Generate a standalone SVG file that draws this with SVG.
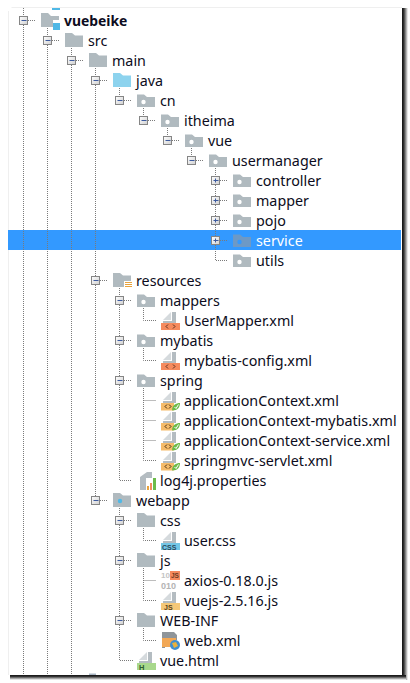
<svg xmlns="http://www.w3.org/2000/svg" width="410" height="683" viewBox="0 0 410 683">
<defs>
<linearGradient id="tg" x1="0" y1="0" x2="1" y2="1"><stop offset="0" stop-color="#ffffff"/><stop offset="1" stop-color="#d0d0d0"/></linearGradient>
<linearGradient id="sb" x1="0" y1="0" x2="0" y2="1"><stop offset="0" stop-color="#111"/><stop offset="0.3" stop-color="#333"/><stop offset="1" stop-color="#fff"/></linearGradient>
<linearGradient id="sr" x1="0" y1="0" x2="1" y2="0"><stop offset="0" stop-color="#111"/><stop offset="0.3" stop-color="#333"/><stop offset="1" stop-color="#fff"/></linearGradient>
<g id="minus"><rect x="-3.5" y="-3.5" width="8" height="8" fill="url(#tg)" stroke="#858585"/><path d="M-1.5 .5H3.5" stroke="#3c5a9e" stroke-width="1"/></g>
<g id="plus"><rect x="-3.5" y="-3.5" width="8" height="8" fill="url(#tg)" stroke="#858585"/><path d="M-1.5 .5H3.5M.5 -1.5V2.5" stroke="#3c5a9e" stroke-width="1"/></g>
<path id="f" d="M0 -7H7L10 -4.5H18V7H0Z" fill="#b0babf"/>
<g id="fd"><path d="M0 -5.500H7L10 -3H18V7H0Z" fill="#b0babf"/><circle cx="6.500" cy="2" r="2.200" fill="#fff"/></g>
<g id="pg"><path d="M3 0L11 -8V0Z" fill="#d5dadd"/><path d="M12 -8H16V3H3V1H12Z" fill="#b4bcc1"/></g>
<g id="xml"><use href="#pg"/><rect x="1" y="3" width="19" height="7" fill="#f58a5e"/><path d="M8 4.500L6 6.500L8 8.500M13 4.500L15 6.500L13 8.500" fill="none" stroke="#5a3020" stroke-width="1"/></g>
<g id="sx"><use href="#pg"/><rect x="1" y="3" width="13" height="7.500" fill="#f5bb6a"/><path d="M7 4.500L5 6.500L7 8.500M9 4.500L11 6.500L9 8.500" fill="none" stroke="#4a3010" stroke-width="1"/><path d="M12 10.500C12 5 16 3 20 3C20 7 18 10.500 12 10.500Z" fill="#6cbb4a"/><path d="M14.500 7L16 8.500L18.500 4.500" fill="none" stroke="#fff" stroke-width="1"/></g>
<style>
.l{fill:none;stroke:#7a7a7a;stroke-width:1;stroke-dasharray:1 1}
text{font-family:"Noto Sans","DejaVu Sans",sans-serif;font-size:14.3px;fill:#0c0c20}
.i{font-family:"Liberation Sans",sans-serif;font-weight:bold}
</style>
</defs>
<rect width="410" height="683" fill="#fff"/>
<g id="frame">
<path d="M11.500 7.500H402M8.500 11V675" fill="none" stroke="#efefef"/>
<rect x="402" y="8" width="6" height="672" fill="url(#sr)"/>
<rect x="10" y="675" width="396" height="5" fill="url(#sb)"/>
</g>
<rect id="selection" x="8" y="230" width="393" height="20" fill="#3399ff"/>
<g id="connectors">
<path class="l" d="M23.500 8V16M23.500 25V675M28 20.500H36"/>
<path class="l" d="M47.500 28V36M47.500 45V675M52 40.500H60"/>
<path class="l" d="M71.500 48V56M71.500 65V675M76 60.500H84"/>
<path class="l" d="M95.500 68V76M95.500 85V276M95.500 285V496M100 80.500H108M100 280.500H108M100 500.500H108"/>
<path class="l" d="M119.500 88V96M124 100.500H132"/>
<path class="l" d="M143.500 108V116M148 120.500H156"/>
<path class="l" d="M167.500 128V136M172 140.500H180"/>
<path class="l" d="M191.500 148V156M196 160.500H204"/>
<path class="l" d="M215.500 168V176M215.500 185V196M215.500 205V216M215.500 225V236M215.500 245V260.500H228M220 180.500H228M220 200.500H228M220 220.500H228M220 240.500H228"/>
<path class="l" d="M119.500 288V296M119.500 305V336M119.500 345V376M119.500 385V480.500H132M124 300.500H132M124 340.500H132M124 380.500H132"/>
<path class="l" d="M143.500 308V320.500H156M143.500 348V360.500H156"/>
<path class="l" d="M143.500 388V460.500H156M143.500 400.500H156M143.500 420.500H156M143.500 440.500H156"/>
<path class="l" d="M119.500 508V516M119.500 525V556M119.500 565V616M119.500 625V660.500H133M124 520.500H132M124 560.500H132M124 620.500H132"/>
<path class="l" d="M143.500 528V540.500H156M143.500 568V600.500H156M143.500 580.500H156M143.500 628V640.500H156"/>
</g>
<path id="top-sliver" d="M52 8H60V10H52Z" fill="#4fb8e6"/>
<path id="bottom-sliver" d="M89 673.500H96V675H89Z" fill="#a9b6c4"/>
<g id="n-vuebeike"><use href="#minus" x="23" y="20"/><path d="M41 13H48L51 16H59V20H53V27H41Z" fill="#b0babf"/><rect x="53" y="23" width="7" height="7" fill="#4fb8e6"/><text x="64" y="26" style="font-weight:700;font-size:13.900px">vuebeike</text></g>
<g id="n-src"><use href="#minus" x="47" y="40"/><use href="#f" x="65" y="40"/><text x="88" y="46">src</text></g>
<g id="n-main"><use href="#minus" x="71" y="60"/><use href="#f" x="89" y="60"/><text x="112" y="66">main</text></g>
<g id="n-java"><use href="#minus" x="95" y="80"/><path d="M113 73H120L123 75.500H131V87H113Z" fill="#8dd3ee"/><text x="136" y="86">java</text></g>
<g id="n-cn"><use href="#minus" x="119" y="100"/><use href="#fd" x="137" y="100"/><text x="160" y="106">cn</text></g>
<g id="n-itheima"><use href="#minus" x="143" y="120"/><use href="#fd" x="161" y="120"/><text x="184" y="126">itheima</text></g>
<g id="n-vue"><use href="#minus" x="167" y="140"/><use href="#fd" x="185" y="140"/><text x="208" y="146">vue</text></g>
<g id="n-usermanager"><use href="#minus" x="191" y="160"/><use href="#fd" x="209" y="160"/><text x="232" y="166">usermanager</text></g>
<g id="n-controller"><use href="#plus" x="215" y="180"/><use href="#fd" x="233" y="180"/><text x="256" y="186">controller</text></g>
<g id="n-mapper"><use href="#plus" x="215" y="200"/><use href="#fd" x="233" y="200"/><text x="256" y="206">mapper</text></g>
<g id="n-pojo"><use href="#plus" x="215" y="220"/><use href="#fd" x="233" y="220"/><text x="256" y="226">pojo</text></g>
<g id="n-service"><use href="#plus" x="215" y="240"/><path d="M233 234.500H240L243 237H251V247H233Z" fill="#6d99c6"/><circle cx="239.500" cy="242" r="2.200" fill="#3399ff"/><text x="256" y="246" style="fill:#fff">service</text></g>
<g id="n-utils"><use href="#fd" x="233" y="260"/><text x="256" y="266">utils</text></g>
<g id="n-resources"><use href="#minus" x="95" y="280"/><path d="M113 273H120L123 275.500H131V281H124V287H113Z" fill="#b0babf"/><path d="M125 282.500H132M125 284.500H132M125 286.500H132" stroke="#e8a33c"/><text x="136" y="286">resources</text></g>
<g id="n-mappers"><use href="#minus" x="119" y="300"/><use href="#fd" x="137" y="300"/><text x="160" y="306">mappers</text></g>
<g id="n-usermapper"><use href="#xml" x="160" y="320"/><text x="184" y="326">UserMapper.xml</text></g>
<g id="n-mybatis"><use href="#minus" x="119" y="340"/><use href="#fd" x="137" y="340"/><text x="160" y="346">mybatis</text></g>
<g id="n-mybatis-config"><use href="#xml" x="160" y="360"/><text x="184" y="366">mybatis-config.xml</text></g>
<g id="n-spring"><use href="#minus" x="119" y="380"/><use href="#fd" x="137" y="380"/><text x="160" y="386">spring</text></g>
<g id="n-ac"><use href="#sx" x="160" y="400"/><text x="184" y="406">applicationContext.xml</text></g>
<g id="n-ac-mybatis"><use href="#sx" x="160" y="420"/><text x="184" y="426">applicationContext-mybatis.xml</text></g>
<g id="n-ac-service"><use href="#sx" x="160" y="440"/><text x="184" y="446">applicationContext-service.xml</text></g>
<g id="n-springmvc"><use href="#sx" x="160" y="460"/><text x="184" y="466">springmvc-servlet.xml</text></g>
<g id="n-log4j"><path d="M140 477L147 472H152V478H146V490H140Z" fill="#b4bcc1"/><rect x="147" y="486" width="2" height="4" fill="#e8a33c"/><rect x="150" y="483" width="2" height="7" fill="#f58a5e"/><rect x="153" y="478" width="3" height="12" fill="#6cbb4a"/><text x="160" y="486">log4j.properties</text></g>
<g id="n-webapp"><use href="#minus" x="95" y="500"/><path d="M113 493H120L123 495.500H131V507H113Z" fill="#b0babf"/><circle cx="120" cy="501" r="2.200" fill="#4fb8e6"/><text x="136" y="506">webapp</text></g>
<g id="n-css"><use href="#minus" x="119" y="520"/><use href="#f" x="137" y="520"/><text x="160" y="526">css</text></g>
<g id="n-usercss"><use href="#pg" x="160" y="540"/><rect x="161" y="543" width="19" height="7" fill="#72c6e6"/><text class="i" x="162" y="549.500" style="font-family:'Liberation Sans',sans-serif;font-size:7px;fill:#2b4a5c">CSS</text><text x="184" y="546">user.css</text></g>
<g id="n-js"><use href="#minus" x="119" y="560"/><use href="#f" x="137" y="560"/><text x="160" y="566">js</text></g>
<g id="n-axios"><text x="161" y="578" style="font-family:'Liberation Sans',sans-serif;font-size:8px;font-weight:bold;fill:#c4c4c4">10</text><rect x="170" y="571" width="10" height="9" fill="#f58a5e"/><text x="171" y="578" style="font-family:'Liberation Sans',sans-serif;font-size:6.500px;font-weight:bold;fill:#6b3a24">JS</text><text x="161" y="589" style="font-family:'Liberation Sans',sans-serif;font-size:9px;font-weight:bold;fill:#b4b4b4">010</text><text x="184" y="586">axios-0.18.0.js</text></g>
<g id="n-vuejs"><use href="#pg" x="160" y="600"/><rect x="161" y="603" width="19" height="7" fill="#f5c878"/><text x="164" y="609.500" style="font-family:'Liberation Sans',sans-serif;font-size:7px;font-weight:bold;fill:#5a4420">JS</text><text x="184" y="606">vuejs-2.5.16.js</text></g>
<g id="n-webinf"><use href="#minus" x="119" y="620"/><use href="#f" x="137" y="620"/><text x="160" y="626">WEB-INF</text></g>
<g id="n-webxml"><path d="M162 632H174L177 635V640H165V648H162Z" fill="#8f959a"/><rect x="162" y="638" width="14" height="9" fill="#f2a856"/><circle cx="175" cy="645" r="5" fill="#3f8fd0"/><path d="M172 643L176 642L178 646L174 648Z" fill="#e9b23c"/><text x="184" y="646">web.xml</text></g>
<g id="n-vuehtml"><use href="#pg" x="136" y="660"/><rect x="137" y="663" width="19" height="7" fill="#a8d88c"/><text x="139" y="669.500" style="font-family:'Liberation Sans',sans-serif;font-size:7.500px;font-weight:bold;fill:#2e5a2e">H</text><text x="160" y="666">vue.html</text></g>
</svg>
